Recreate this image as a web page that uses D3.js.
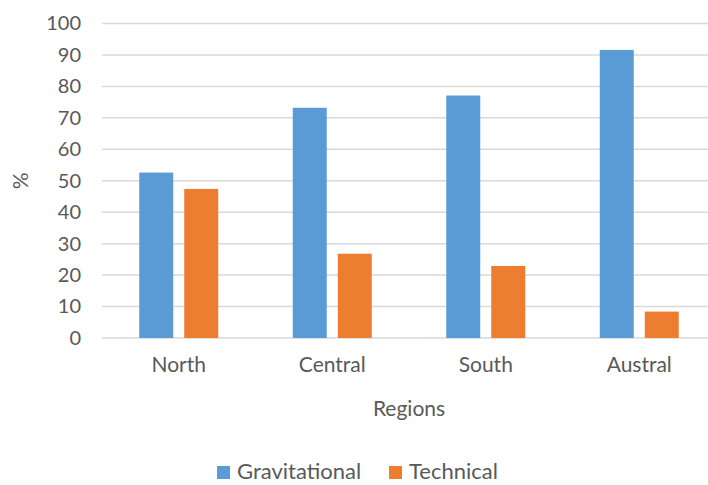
<!DOCTYPE html>
<html>
<head>
<meta charset="utf-8">
<script src="https://cdn.jsdelivr.net/npm/d3@7"></script>
<style>
  html, body { margin: 0; padding: 0; background: #fff; }
  svg { display: block; }
  text { font-family: Lato, "Open Sans", sans-serif; fill: #595959; }
</style>
</head>
<body>
<svg id="chart" width="708" height="485"></svg>
<script>
// Share of each network type by region (%)
const regions = ["North", "Central", "South", "Austral"];
const seriesNames = ["Gravitational", "Technical"];
const gravitational = [52.6, 73.2, 77.1, 91.6];
const technical = [47.4, 26.8, 22.9, 8.4];
const yTicks = [0, 10, 20, 30, 40, 50, 60, 70, 80, 90, 100];
const colors = ["#5B9BD5", "#ED7D31"];

const svg = d3.select("#chart");
const plot = { left: 102, right: 716, top: 23.5, bottom: 338 };

const x0 = d3.scaleBand().domain(regions).range([plot.left, plot.right]).padding(0);
const groupW = 79;
const x1 = d3.scaleBand().domain(seriesNames)
  .range([(x0.bandwidth() - groupW) / 2, (x0.bandwidth() + groupW) / 2])
  .paddingInner(0.2444).paddingOuter(0);
const y = d3.scaleLinear().domain([0, 100]).range([plot.bottom, plot.top]);

// Horizontal gridlines (the zero line doubles as the category axis)
svg.append("g").selectAll("line").data(yTicks).join("line")
  .attr("x1", plot.left).attr("x2", plot.right)
  .attr("y1", d => y(d)).attr("y2", d => y(d))
  .attr("stroke", "#D9D9D9").attr("stroke-width", 1.5);

// Value axis labels
const yAxis = d3.axisLeft(y).tickValues(yTicks).tickSize(0).tickPadding(0);
const gy = svg.append("g").attr("transform", `translate(81,0)`).call(yAxis);
gy.select(".domain").remove();
gy.selectAll("text").style("font-size", "20px").attr("fill", "#595959")
  .style("font-family", "Lato, sans-serif");

// Category axis labels
const xAxis = d3.axisBottom(x0).tickSize(0).tickPadding(0);
const gx = svg.append("g").attr("transform", `translate(0,${plot.bottom + 19})`).call(xAxis);
gx.select(".domain").remove();
gx.selectAll("text").style("font-size", "21px").attr("fill", "#595959")
  .style("font-family", "Lato, sans-serif");

// Bars
const rows = regions.map((r, i) => ({ region: r, values: [gravitational[i], technical[i]] }));
svg.append("g").selectAll("g").data(rows).join("g")
  .attr("transform", d => `translate(${x0(d.region)},0)`)
  .selectAll("rect")
  .data(d => d.values.map((v, j) => ({ key: seriesNames[j], value: v, color: colors[j] })))
  .join("rect")
  .attr("x", d => x1(d.key))
  .attr("width", x1.bandwidth())
  .attr("y", d => y(d.value))
  .attr("height", d => y(0) - y(d.value))
  .attr("fill", d => d.color);

// Axis titles
svg.append("text")
  .attr("x", (plot.left + plot.right) / 2).attr("y", 416)
  .attr("text-anchor", "middle").style("font-size", "21px")
  .text("Regions");

svg.append("text")
  .attr("transform", `translate(28,${(plot.top + plot.bottom) / 2}) rotate(-90)`)
  .attr("text-anchor", "middle").style("font-size", "21px")
  .text("%");

// Legend
const legendItems = [
  { name: seriesNames[0], color: colors[0], x: 217 },
  { name: seriesNames[1], color: colors[1], x: 389 }
];
const lg = svg.append("g");
legendItems.forEach(it => {
  lg.append("rect").attr("x", it.x).attr("y", 466).attr("width", 13).attr("height", 13)
    .attr("fill", it.color);
  lg.append("text").attr("x", it.x + 20).attr("y", 479)
    .style("font-size", "22px").text(it.name);
});
</script>
</body>
</html>
